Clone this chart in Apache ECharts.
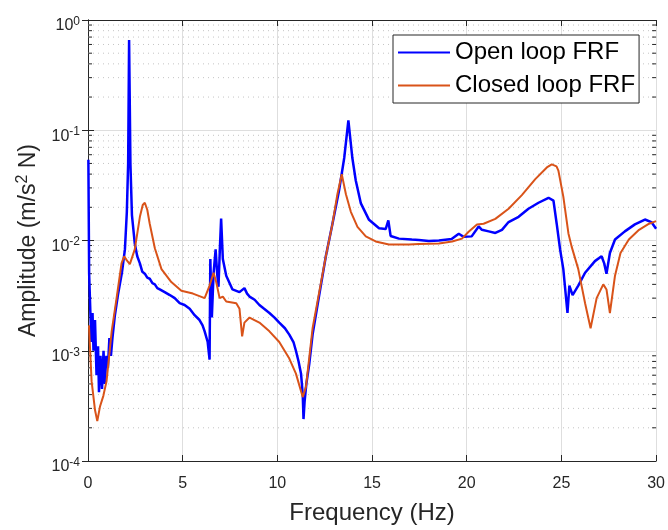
<!DOCTYPE html>
<html>
<head>
<meta charset="utf-8">
<script src="https://cdn.jsdelivr.net/npm/echarts@6/dist/echarts.min.js"></script>
<style>html,body{margin:0;padding:0;background:#fff;}#c{width:668px;height:530px;}</style>
</head>
<body>
<div id="c"></div>
<script>
// ---- data ----
const openFreq = [0.02,0.06,0.13,0.18,0.24,0.29,0.37,0.45,0.53,0.58,0.66,0.74,0.82,0.89,0.97,1.05,1.13,1.21,1.29,1.42,1.58,1.79,1.95,2.05,2.12,2.17,2.24,2.32,2.47,2.6,2.74,2.87,3.0,3.13,3.26,3.4,3.53,3.66,3.79,4.05,4.32,4.58,4.84,5.1,5.37,5.63,5.89,6.05,6.16,6.32,6.42,6.46,6.5,6.54,6.63,6.74,6.82,6.89,6.97,7.03,7.12,7.3,7.63,8.0,8.1,8.26,8.4,8.53,8.8,9.05,9.3,9.58,9.85,10.1,10.4,10.63,10.85,10.98,11.12,11.25,11.34,11.38,11.44,11.53,11.68,11.86,12.21,12.56,12.91,13.26,13.53,13.75,13.96,14.14,14.41,14.84,15.37,15.72,15.86,15.98,16.42,17.1,17.47,18.0,18.53,19.2,19.58,19.84,20.26,20.63,20.8,21.16,21.51,21.86,22.21,22.74,23.26,23.79,24.32,24.58,24.75,24.93,25.1,25.32,25.42,25.59,25.89,26.25,26.77,27.12,27.26,27.38,27.56,27.83,28.35,28.88,29.41,29.75,30.0];
const openAmp = [0.054,0.005,0.0021,0.0012,0.0022,0.0010,0.0019,0.0006,0.0011,0.00042,0.0009,0.00045,0.001,0.0005,0.0009,0.0007,0.0013,0.0009,0.0013,0.0021,0.0032,0.0051,0.0083,0.018,0.05,0.66,0.05,0.017,0.0094,0.0072,0.0062,0.0052,0.005,0.0046,0.0045,0.0041,0.004,0.0037,0.0036,0.0034,0.0032,0.003,0.0027,0.0026,0.0024,0.0021,0.0019,0.0017,0.0015,0.0012,0.00083,0.0068,0.0035,0.002,0.005,0.0083,0.005,0.0038,0.009,0.0158,0.0068,0.0048,0.0036,0.0034,0.0035,0.0037,0.0033,0.0031,0.0029,0.0026,0.0024,0.0022,0.002,0.0018,0.0016,0.0014,0.0012,0.001,0.0008,0.00062,0.0004,0.00024,0.00035,0.0005,0.00075,0.0014,0.0032,0.0072,0.0142,0.0286,0.056,0.123,0.056,0.035,0.0217,0.0154,0.0129,0.0127,0.0152,0.011,0.0104,0.0102,0.0101,0.0099,0.01,0.0103,0.0115,0.0108,0.0109,0.0134,0.0125,0.0121,0.0117,0.0125,0.0147,0.0164,0.0194,0.022,0.0244,0.023,0.0142,0.0083,0.0055,0.0022,0.0039,0.0032,0.0039,0.0051,0.0065,0.0072,0.0062,0.005,0.0077,0.0102,0.0121,0.014,0.0155,0.0147,0.0128];

const closedFreq = [0.05,0.19,0.37,0.49,0.63,0.81,0.98,1.25,1.51,1.77,1.91,2.05,2.21,2.47,2.74,2.89,3.0,3.13,3.26,3.53,3.88,4.4,4.93,5.54,6.16,6.42,6.63,6.77,6.95,7.12,7.3,7.83,8.0,8.14,8.26,8.53,9.05,9.58,10.1,10.63,10.98,11.25,11.34,11.51,11.86,12.21,12.56,12.91,13.17,13.4,13.62,13.88,14.23,14.67,15.19,15.89,16.95,17.47,18.53,19.23,19.75,20.1,20.54,20.89,21.51,22.21,22.91,23.62,24.23,24.49,24.74,24.84,25.1,25.37,25.54,25.89,26.25,26.54,26.86,27.21,27.38,27.56,27.83,28.12,28.56,29.1,29.63,30.0];
const closedAmp = [0.0017,0.00053,0.00029,0.00023,0.00031,0.00039,0.00053,0.0015,0.003,0.0062,0.0072,0.0066,0.0061,0.0083,0.0164,0.021,0.022,0.019,0.0142,0.0085,0.0055,0.0042,0.0035,0.0033,0.003,0.0039,0.0051,0.0042,0.003,0.0031,0.0028,0.0027,0.0024,0.00135,0.0018,0.002,0.0018,0.0015,0.0012,0.00085,0.00062,0.00043,0.00038,0.00047,0.0016,0.0034,0.0072,0.0142,0.0263,0.040,0.0263,0.0182,0.0133,0.0109,0.0098,0.0092,0.0092,0.0093,0.0094,0.0098,0.0104,0.012,0.014,0.0142,0.0157,0.0194,0.0258,0.036,0.046,0.049,0.047,0.043,0.025,0.0116,0.0088,0.0055,0.0027,0.0016,0.003,0.004,0.0036,0.0022,0.0048,0.0077,0.0102,0.0125,0.0142,0.015];

const seriesNames = ['Open loop FRF', 'Closed loop FRF'];
const xTicks = [0, 5, 10, 15, 20, 25, 30];
const yDecades = [-4, -3, -2, -1, 0];

// ---- build ----
const minorVals = [];
for (let e = -4; e < 0; e++) for (let m = 2; m <= 9; m++) minorVals.push(m * Math.pow(10, e));

const FONT = '"Liberation Sans", Arial, Helvetica, sans-serif';
const TXT = '#262626';
const chart = echarts.init(document.getElementById('c'), null, {renderer: 'canvas'});

const yFmt = v => {
  const e = Math.round(Math.log10(v));
  return '{b|10}{s|' + e + '}';
};

chart.setOption({
  animation: false,
  backgroundColor: '#fff',
  grid: {left: 88, right: 10, top: 20, bottom: 62, containLabel: false},
  legend: {
    orient: 'vertical', left: 393, top: 35,
    data: seriesNames,
    icon: 'rect', itemWidth: 52, itemHeight: 2, itemGap: 6,
    padding: [4, 4, 4, 5],
    backgroundColor: '#fff', borderColor: '#262626', borderWidth: 1, borderRadius: 0,
    textStyle: {fontFamily: FONT, fontSize: 24, color: '#000', lineHeight: 27, padding: [0,0,0,0]}
  },
  xAxis: [{
    type: 'value', min: 0, max: 30, interval: 5,
    name: 'Frequency (Hz)', nameLocation: 'middle', nameGap: 40,
    nameTextStyle: {fontFamily: FONT, fontSize: 24, color: TXT},
    axisLine: {show: true, lineStyle: {color: TXT, width: 1}},
    axisTick: {show: true, inside: true, length: 6, lineStyle: {color: TXT}},
    axisLabel: {fontFamily: FONT, fontSize: 16, color: TXT, margin: 15},
    splitLine: {show: true, lineStyle: {color: '#dedede', width: 1}}
  }, {
    type: 'value', min: 0, max: 30, interval: 5, position: 'top',
    axisLine: {show: true, lineStyle: {color: TXT, width: 1}},
    axisTick: {show: true, inside: true, length: 6, lineStyle: {color: TXT}},
    axisLabel: {show: false}, splitLine: {show: false}
  }],
  yAxis: [{
    type: 'log', logBase: 10, min: 1e-4, max: 1, splitNumber: 4,
    name: '{a|Amplitude (m/s}{s|2}{a| N)}', nameLocation: 'middle', nameGap: 45, nameRotate: 90,
    nameTextStyle: {fontFamily: FONT, color: TXT,
      rich: {a: {fontFamily: FONT, fontSize: 23, color: TXT},
             s: {fontFamily: FONT, fontSize: 16, color: TXT, padding: [0,0,12,0]}}},
    axisLine: {show: true, lineStyle: {color: TXT, width: 1}},
    axisTick: {show: true, inside: true, length: 6, lineStyle: {color: TXT}},
    axisLabel: {formatter: yFmt, margin: 8, padding: [12, 0, 0, 0],
      rich: {b: {fontFamily: FONT, fontSize: 16, color: TXT},
             s: {fontFamily: FONT, fontSize: 12, color: TXT, padding: [0,0,9,0]}}},
    splitLine: {show: true, lineStyle: {color: '#dedede', width: 1}}
  }, {
    type: 'log', logBase: 10, min: 1e-4, max: 1, splitNumber: 4, position: 'right',
    axisLine: {show: true, lineStyle: {color: TXT, width: 1}},
    axisTick: {show: true, inside: true, length: 6, lineStyle: {color: TXT}},
    axisLabel: {show: false}, splitLine: {show: false}
  }],
  series: [{
    type: 'custom', name: 'minor', silent: true, z: 1,
    xAxisIndex: 0, yAxisIndex: 0,
    data: minorVals.map(v => [0, v]),
    renderItem: (params, api) => {
      const v = api.value(1);
      const p0 = api.coord([0, v]);
      const p1 = api.coord([30, v]);
      return {type: 'group', children: [
        {type: 'line', shape: {x1: p0[0], y1: p0[1], x2: p1[0], y2: p1[1]},
         style: {stroke: '#c4c4c4', lineWidth: 1, lineDash: [1, 4]}},
        {type: 'line', shape: {x1: p0[0], y1: p0[1], x2: p0[0] + 4, y2: p0[1]},
         style: {stroke: TXT, lineWidth: 1}},
        {type: 'line', shape: {x1: p1[0] - 4, y1: p1[1], x2: p1[0], y2: p1[1]},
         style: {stroke: TXT, lineWidth: 1}}
      ]};
    }
  }, {
    type: 'line', name: seriesNames[0], z: 3,
    data: openFreq.map((f, i) => [f, openAmp[i]]),
    showSymbol: false, symbol: 'none',
    lineStyle: {color: '#0000ff', width: 2.5}, itemStyle: {color: '#0000ff'}
  }, {
    type: 'line', name: seriesNames[1], z: 4,
    data: closedFreq.map((f, i) => [f, closedAmp[i]]),
    showSymbol: false, symbol: 'none',
    lineStyle: {color: '#d95319', width: 2}, itemStyle: {color: '#d95319'}
  }]
});
</script>
</body>
</html>
